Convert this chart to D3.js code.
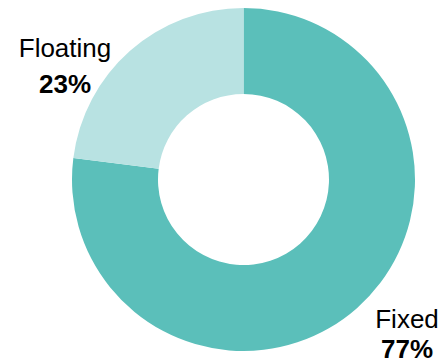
<!DOCTYPE html>
<html>
<head>
<meta charset="utf-8">
<script src="https://cdn.jsdelivr.net/npm/d3@7"></script>
<style>
  html, body { margin: 0; padding: 0; background: #fff; }
  svg { display: block; }
</style>
</head>
<body>
<div id="chart"></div>
<script>
// Donut chart: rate type split
const categories = ['Fixed', 'Floating'];
const shares = [77, 23];
const colors = ['#5bbfba', '#b8e2e2'];

const width = 444, height = 361;
const cx = 243.5, cy = 179.5;
const outerR = 171.5, innerR = 85.5;

// label anchor (x, first baseline, second line offset), per category
const labelPos = {
  Fixed: [407, 328, 30],
  Floating: [65, 57, 36]
};

const svg = d3.select('#chart')
  .append('svg')
  .attr('width', width)
  .attr('height', height)
  .attr('viewBox', `0 0 ${width} ${height}`);

const data = categories.map((c, i) => ({ name: c, value: shares[i], color: colors[i] }));

const pie = d3.pie()
  .sort(null)
  .value(d => d.value);

const arc = d3.arc()
  .innerRadius(innerR)
  .outerRadius(outerR);

const g = svg.append('g')
  .attr('transform', `translate(${cx},${cy})`);

g.selectAll('path')
  .data(pie(data))
  .enter()
  .append('path')
  .attr('d', arc)
  .attr('fill', d => d.data.color);

// labels
const labels = svg.append('g')
  .selectAll('text')
  .data(data)
  .enter()
  .append('text')
  .attr('text-anchor', 'middle')
  .attr('font-family', 'Liberation Sans, Arial, sans-serif')
  .attr('font-size', '26px')
  .attr('fill', '#000')
  .attr('transform', d => `translate(${labelPos[d.name][0]},${labelPos[d.name][1]})`);

labels.append('tspan')
  .attr('x', 0)
  .attr('y', 0)
  .text(d => d.name);

labels.append('tspan')
  .attr('x', 0)
  .attr('y', d => labelPos[d.name][2])
  .attr('font-weight', 'bold')
  .text(d => d.value + '%');
</script>
</body>
</html>
